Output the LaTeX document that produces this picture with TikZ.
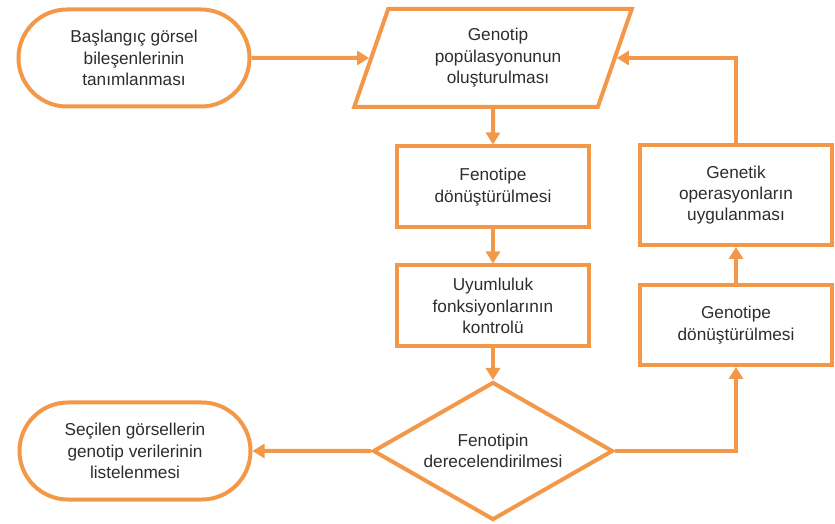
\documentclass[tikz,border=0pt]{standalone}
\usepackage{fontspec}
\setmainfont{Liberation Sans}
\usepackage{tikz}
\usetikzlibrary{arrows.meta, positioning, shapes.geometric, shapes.misc}
\definecolor{flowor}{RGB}{242,152,72}
\definecolor{flowtxt}{RGB}{45,45,45}
\tikzset{%
	base/.style={draw=flowor, line width=0.08cm, text=flowtxt, align=center,%
		font=\fontsize{9.8}{12.2}\selectfont, inner sep=1mm},
	term/.style={base, rounded rectangle, minimum width=4.82cm, minimum height=1.94cm},
	io/.style={base, trapezium, trapezium left angle=71, trapezium right angle=109,%
		trapezium stretches=true, minimum width=5.56cm, minimum height=1.96cm},
	proc/.style={base, rectangle, minimum width=3.84cm, minimum height=1.62cm},
	decide/.style={base, diamond, aspect=1.74, minimum width=4.8cm, minimum height=2.76cm,%
		inner sep=0mm},
	arr/.style={draw=flowor, line width=0.08cm, -{Triangle[width=2.8mm, length=2.4mm]}}
}

\begin{document}
\begin{tikzpicture}
	\useasboundingbox (0,0) rectangle (16.7,-10.48);

	\node[term] (start) at (2.68,-1.16) {Başlangıç görsel\\bileşenlerinin\\tanımlanması};
	\node[io] (pop) at (9.86,-1.16) {\hspace*{2mm}Genotip\\\hspace*{2mm}popülasyonunun\\\hspace*{2mm}oluşturulması};
	\node[proc] (fen) at (9.86,-3.74) {Fenotipe\\dönüştürülmesi};
	\node[proc, below=0.68cm of fen] (uyum) {Uyumluluk\\fonksiyonlarının\\kontrolü};
	\node[decide] (dere) at (9.86,-9.02) {Fenotipin\\derecelendirilmesi};
	\node[term] (liste) at (2.7,-9.02) {Seçilen görsellerin\\genotip verilerinin\\listelenmesi};
	\node[proc, minimum height=2cm] (oper) at (14.72,-3.9) {Genetik\\operasyonların\\uygulanması};
	\node[proc, minimum height=1.6cm] (genotip) at (14.72,-6.5) {Genotipe\\dönüştürülmesi};

	\draw[arr] (start) -- (pop);
	\draw[arr] (pop) -- (fen);
	\draw[arr] (fen) -- (uyum);
	\draw[arr] (uyum) -- (dere);
	\draw[arr] (dere) -- (liste);
	\draw[arr] (dere.east) -| (genotip.south);
	\draw[arr] (genotip) -- (oper);
	\draw[arr] (oper.north) |- (pop);
\end{tikzpicture}
\end{document}
